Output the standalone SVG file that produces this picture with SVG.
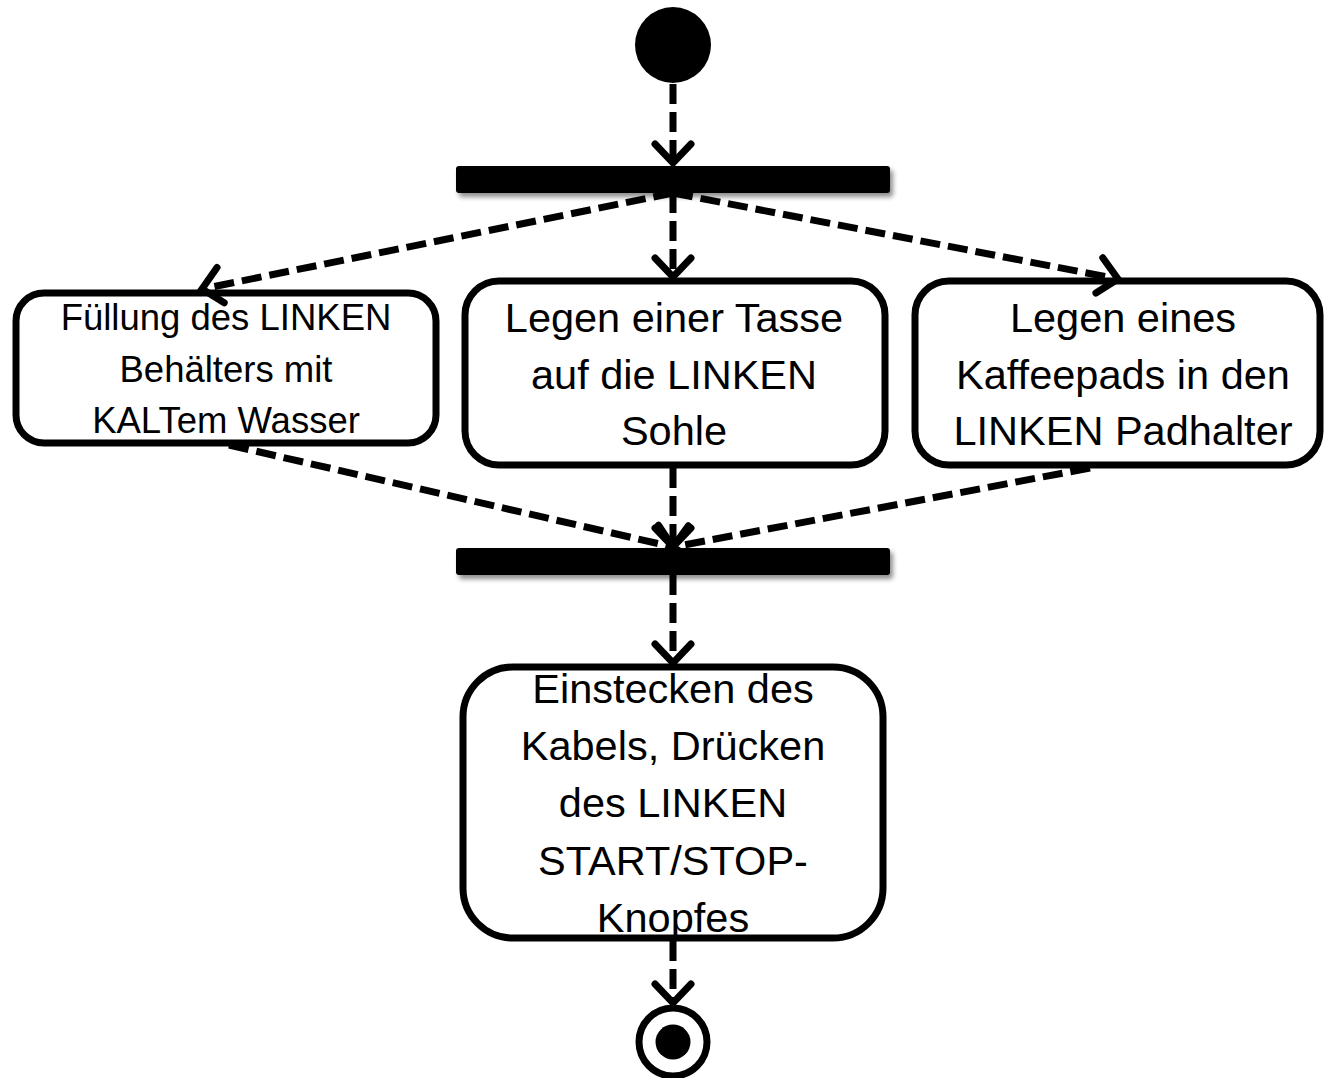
<svg xmlns="http://www.w3.org/2000/svg" width="1325" height="1078" viewBox="0 0 1325 1078">
<style>
.box{fill:#fff;stroke:#000;stroke-width:7}
.bar{fill:#000;filter:url(#sh)}
.t{font-family:"Liberation Sans",Arial,sans-serif;fill:#000;text-anchor:middle}
.big{font-size:41.5px}
.small{font-size:36.5px}
.c{fill:none;stroke:#000;stroke-width:7;stroke-dasharray:20 8}
</style>
<defs>
<filter id="sh" x="-10%" y="-50%" width="120%" height="250%">
<feGaussianBlur in="SourceAlpha" stdDeviation="2.5"/>
<feOffset dx="3" dy="4" result="b"/>
<feComponentTransfer><feFuncA type="linear" slope="0.45"/></feComponentTransfer>
<feMerge><feMergeNode/><feMergeNode in="SourceGraphic"/></feMerge>
</filter>
<marker id="arr" markerUnits="userSpaceOnUse" viewBox="-25 -25 30 50" markerWidth="30" markerHeight="50" refX="0" refY="0" orient="auto" overflow="visible">
<path d="M-19 -18 L0 0 L-19 18" fill="none" stroke="#000" stroke-width="7" stroke-linecap="round" stroke-linejoin="miter" stroke-dasharray="none"/>
</marker>
</defs>

<g id="start"><circle cx="673" cy="45" r="38" fill="#000"/></g>
<g id="fork"><rect class="bar" x="456" y="166" width="434" height="27" rx="3"/></g>
<g id="join"><rect class="bar" x="456" y="548" width="434" height="27" rx="3"/></g>

<g id="node-left">
<rect class="box" x="16" y="293" width="420" height="150" rx="28"/>
<text class="t small" x="226" y="330">Füllung des LINKEN</text>
<text class="t small" x="226" y="382">Behälters mit</text>
<text class="t small" x="226" y="433">KALTem Wasser</text>
</g>
<g id="node-middle">
<rect class="box" x="465" y="281" width="420" height="184" rx="34"/>
<text class="t big" x="674" y="332">Legen einer Tasse</text>
<text class="t big" x="674" y="389">auf die LINKEN</text>
<text class="t big" x="674" y="445">Sohle</text>
</g>
<g id="node-right">
<rect class="box" x="915" y="281" width="405" height="184" rx="34"/>
<text class="t big" x="1123" y="332">Legen eines</text>
<text class="t big" x="1123" y="389">Kaffeepads in den</text>
<text class="t big" x="1123" y="445">LINKEN Padhalter</text>
</g>
<g id="node-bottom">
<rect class="box" x="463" y="667" width="420" height="271" rx="50"/>
<text class="t big" x="673" y="703">Einstecken des</text>
<text class="t big" x="673" y="760">Kabels, Drücken</text>
<text class="t big" x="673" y="817">des LINKEN</text>
<text class="t big" x="673" y="875">START/STOP-</text>
<text class="t big" x="673" y="932">Knopfes</text>
</g>
<g id="end">
<circle cx="673" cy="1042" r="34" fill="#fff" stroke="#000" stroke-width="7"/>
<circle cx="673" cy="1042" r="17.5" fill="#000"/>
</g>

<g id="connectors">
<line class="c" x1="673" y1="84" x2="673" y2="163" marker-end="url(#arr)"/>
<line class="c" x1="673" y1="193" x2="202" y2="289" marker-end="url(#arr)"/>
<line class="c" x1="673" y1="193" x2="673" y2="277" marker-end="url(#arr)"/>
<line class="c" x1="673" y1="193" x2="1118" y2="279" marker-end="url(#arr)"/>
<line class="c" x1="229" y1="445" x2="673" y2="547" marker-end="url(#arr)"/>
<line class="c" x1="673" y1="468" x2="673" y2="547" marker-end="url(#arr)"/>
<line class="c" x1="1090" y1="468" x2="673" y2="547" marker-end="url(#arr)"/>
<line class="c" x1="673" y1="575" x2="673" y2="663" marker-end="url(#arr)"/>
<line class="c" x1="673" y1="941" x2="673" y2="1003" marker-end="url(#arr)"/>
</g>
</svg>
